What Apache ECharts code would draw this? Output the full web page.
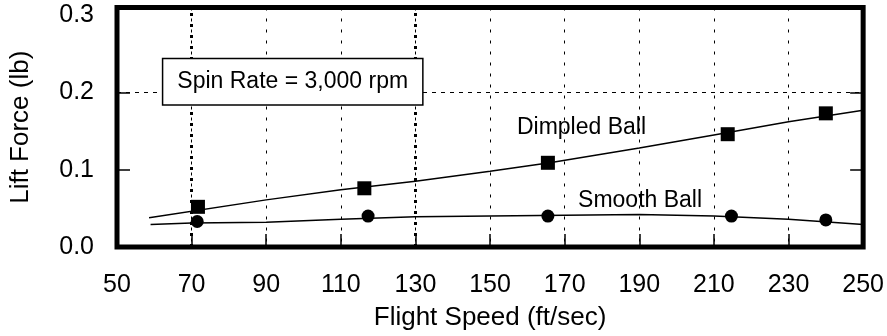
<!DOCTYPE html>
<html>
<head>
<meta charset="utf-8">
<script src="https://cdn.jsdelivr.net/npm/echarts@6/dist/echarts.min.js"></script>
<style>
	html, body { margin: 0; padding: 0; background: #fff; }
	#chart { width: 887px; height: 336px; }
</style>
</head>
<body>
<div id="chart"></div>
<script>
// Values.
const speedRange = [ 50, 250 ];
const speedStep = 20;
const liftTicks = [ 0, 0.1, 0.2, 0.3 ];
const liftInnerTicks = [ 0.1, 0.2 ];

// Measured points (markers)
const dimpledPoints = [ [ 71.7, 0.052 ], [ 116.3, 0.076 ], [ 165.5, 0.109 ], [ 213.7, 0.146 ], [ 240, 0.173 ] ];
const smoothPoints = [ [ 71.5, 0.033 ], [ 117.3, 0.040 ], [ 165.5, 0.040 ], [ 214.7, 0.040 ], [ 240, 0.035 ] ];

// Fitted curves
const dimpledFit = [ [ 58.6, 0.038 ], [ 90, 0.061 ], [ 110, 0.074 ], [ 130, 0.085 ], [ 150, 0.098 ],
	[ 166, 0.109 ], [ 190, 0.128 ], [ 210, 0.145 ], [ 230, 0.162 ], [ 250, 0.177 ] ];
const smoothFit = [ [ 59, 0.029 ], [ 70, 0.031 ], [ 90, 0.032 ], [ 110, 0.036 ], [ 130, 0.039 ],
	[ 150, 0.040 ], [ 190, 0.042 ], [ 210, 0.040 ], [ 230, 0.036 ], [ 250, 0.029 ] ];

// The two heavier dotted grid lines
const boldGridSpeeds = [ 70, 130 ];

const notes = [
	{ text: 'Spin Rate = 3,000 rpm', x: 97.1, y: 0.214, boxed: true },
	{ text: 'Dimpled Ball', x: 174.5, y: 0.154 },
	{ text: 'Smooth Ball', x: 190.2, y: 0.060 }
];

const FONT = '"Liberation Sans", Arial, sans-serif';

const chart = echarts.init( document.getElementById( 'chart' ), null, { renderer: 'canvas' } );

const liftAxis = ( side ) => ( {
	type: 'value',
	position: side,
	min: 0,
	max: 0.31,
	interval: 0.1,
	axisLine: { show: false },
	axisTick: {
		show: true,
		inside: true,
		length: 13,
		customValues: liftInnerTicks,
		lineStyle: { color: '#000', width: 1.5 }
	},
	axisLabel: {
		show: side === 'left',
		customValues: liftTicks,
		formatter: ( v ) => v.toFixed( 1 ),
		margin: 23,
		padding: [ 4, 0, 0, 0 ],
		color: '#000',
		fontFamily: FONT,
		fontSize: 25
	},
	splitLine: {
		show: side === 'left',
		// only the 0.1 and 0.2 lines are visible
		lineStyle: {
			color: [ 'rgba(0,0,0,0)', '#000', '#000', 'rgba(0,0,0,0)', 'rgba(0,0,0,0)' ],
			width: 1,
			type: [ 4, 5 ]
		}
	}
} );

const option = {
	backgroundColor: '#fff',
	animation: false,
	grid: {
		left: 116.5,
		right: 22.5,
		top: 7.5,
		bottom: 88.5,
		show: true,
		borderColor: '#000',
		borderWidth: 5,
		backgroundColor: '#fff'
	},
	xAxis: {
		type: 'value',
		min: speedRange[ 0 ],
		max: speedRange[ 1 ],
		interval: speedStep,
		name: 'Flight Speed (ft/sec)',
		nameLocation: 'middle',
		nameGap: 58,
		nameTextStyle: { color: '#000', fontFamily: FONT, fontSize: 26 },
		axisLine: { show: false },
		axisTick: { inside: true, length: 13, lineStyle: { color: '#000', width: 1.5 } },
		axisLabel: { margin: 26, color: '#000', fontFamily: FONT, fontSize: 25 },
		splitLine: { show: true, lineStyle: { color: '#000', width: 1, type: [ 3, 8 ] } }
	},
	yAxis: [
		Object.assign( liftAxis( 'left' ), {
			name: 'Lift Force (lb)',
			nameLocation: 'middle',
			nameGap: 83,
			nameTextStyle: { color: '#000', fontFamily: FONT, fontSize: 26 }
		} ),
		liftAxis( 'right' )
	],
	series: [
		{
			name: 'Dimpled fit',
			type: 'line',
			data: dimpledFit,
			smooth: false,
			showSymbol: false,
			symbol: 'none',
			lineStyle: { color: '#000', width: 1.5, opacity: 1 },
			silent: true,
			z: 3,
			markLine: {
				silent: true,
				symbol: 'none',
				label: { show: false },
				lineStyle: { color: '#000', width: 3, type: [ 3, 8 ], opacity: 1 },
				data: boldGridSpeeds.map( ( v ) => ( { xAxis: v } ) )
			}
		},
		{
			name: 'Smooth fit',
			type: 'line',
			data: smoothFit,
			smooth: false,
			symbol: 'none',
			lineStyle: { color: '#000', width: 1.5, opacity: 1 },
			silent: true,
			z: 3
		},
		{
			name: 'Dimpled Ball',
			type: 'scatter',
			data: dimpledPoints,
			symbol: 'rect',
			symbolSize: 14,
			itemStyle: { color: '#000', opacity: 1 },
			z: 4
		},
		{
			name: 'Smooth Ball',
			type: 'scatter',
			data: smoothPoints,
			symbol: 'circle',
			symbolSize: 13,
			itemStyle: { color: '#000', opacity: 1 },
			z: 4
		},
		{
			name: 'Notes',
			type: 'scatter',
			data: notes.map( ( n ) => ( {
				value: [ n.x, n.y ],
				label: n.boxed ? {
					backgroundColor: '#fff',
					borderColor: '#000',
					borderWidth: 1.5,
					padding: [ 11, 14 ]
				} : {}
			} ) ),
			symbolSize: 1,
			itemStyle: { color: 'rgba(0,0,0,0)', opacity: 1 },
			silent: true,
			z: 10,
			label: {
				show: true,
				position: 'inside',
				formatter: ( p ) => notes[ p.dataIndex ].text,
				color: '#000',
				opacity: 1,
				fontFamily: FONT,
				fontSize: 23
			}
		}
	]
};

chart.setOption( option );
</script>
</body>
</html>
